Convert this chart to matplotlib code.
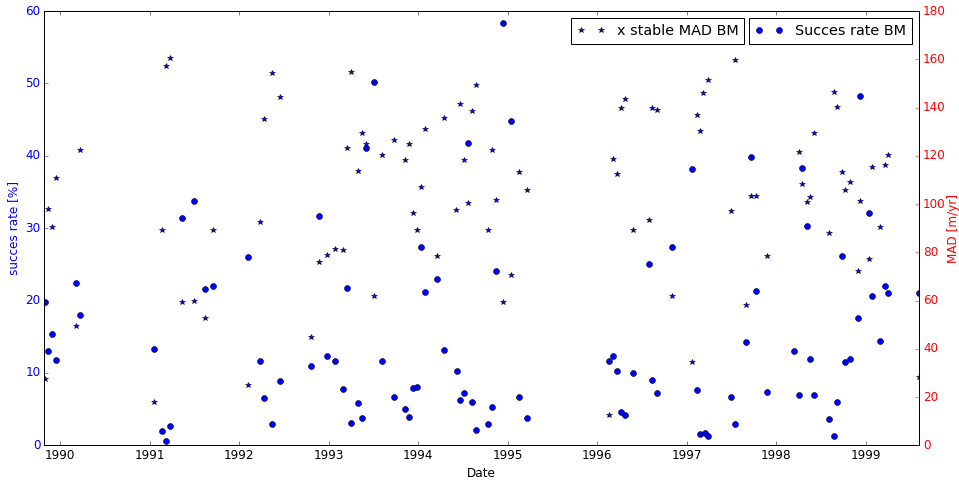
import matplotlib
matplotlib.use('Agg')
import matplotlib.pyplot as plt
from matplotlib.ticker import MultipleLocator, FormatStrFormatter

# success rate (left axis), decimal year
rate_dates = [1989.83, 1989.87, 1989.91, 1989.96, 1990.18, 1990.22,
              1991.05, 1991.14, 1991.18, 1991.23, 1991.36, 1991.50, 1991.62, 1991.71,
              1992.10, 1992.23, 1992.28, 1992.37, 1992.46, 1992.80, 1992.89, 1992.98,
              1993.07, 1993.16, 1993.21, 1993.25, 1993.33, 1993.37, 1993.42, 1993.51,
              1993.60, 1993.73, 1993.85, 1993.90, 1993.94, 1993.99, 1994.03, 1994.08,
              1994.21, 1994.29, 1994.44, 1994.47, 1994.51, 1994.56, 1994.60, 1994.65,
              1994.78, 1994.83, 1994.87, 1994.95, 1995.04, 1995.13, 1995.22,
              1996.13, 1996.18, 1996.22, 1996.27, 1996.31, 1996.40, 1996.58, 1996.61,
              1996.67, 1996.84, 1997.06, 1997.11, 1997.15, 1997.20, 1997.24, 1997.50,
              1997.54, 1997.66, 1997.72, 1997.77, 1997.90, 1998.20, 1998.25, 1998.29,
              1998.34, 1998.38, 1998.42, 1998.59, 1998.65, 1998.68, 1998.73, 1998.77,
              1998.82, 1998.91, 1998.94, 1999.04, 1999.07, 1999.16, 1999.21, 1999.25,
              1999.60]
rate_vals = [19.8, 13.0, 15.4, 11.8, 22.4, 18.0,
             13.3, 2.0, 0.6, 2.7, 31.4, 33.8, 21.6, 22.0,
             26.0, 11.6, 6.5, 2.9, 8.9, 11.0, 31.7, 12.3,
             11.6, 7.8, 21.7, 3.1, 5.8, 3.8, 41.1, 50.2,
             11.6, 6.7, 5.0, 3.9, 7.9, 8.0, 27.4, 21.2,
             23.0, 13.2, 10.3, 6.3, 7.2, 41.8, 6.0, 2.1,
             2.9, 5.3, 24.1, 58.3, 44.8, 6.7, 3.8,
             11.6, 12.3, 10.3, 4.6, 4.2, 10.0, 25.0, 9.0,
             7.2, 27.4, 38.2, 7.6, 1.6, 1.7, 1.3, 6.7,
             2.9, 14.3, 39.8, 21.3, 7.4, 13.0, 6.9, 38.3,
             30.3, 11.9, 6.9, 3.6, 1.3, 6.0, 26.2, 11.5,
             11.9, 17.6, 48.3, 32.1, 20.6, 14.4, 22.0, 21.0,
             21.0]

# MAD of stable ground (right axis)
mad_dates = [1989.83, 1989.87, 1989.91, 1989.96, 1990.18, 1990.22,
             1991.05, 1991.14, 1991.18, 1991.23, 1991.36, 1991.50, 1991.62, 1991.71,
             1992.10, 1992.23, 1992.28, 1992.37, 1992.46, 1992.80, 1992.89, 1992.98,
             1993.07, 1993.16, 1993.21, 1993.25, 1993.33, 1993.37, 1993.42, 1993.51,
             1993.60, 1993.73, 1993.85, 1993.90, 1993.94, 1993.99, 1994.03, 1994.08,
             1994.21, 1994.29, 1994.42, 1994.47, 1994.51, 1994.56, 1994.60, 1994.65,
             1994.78, 1994.83, 1994.87, 1994.95, 1995.04, 1995.13, 1995.22,
             1996.13, 1996.18, 1996.22, 1996.27, 1996.31, 1996.40, 1996.58, 1996.61,
             1996.67, 1996.84, 1997.06, 1997.11, 1997.15, 1997.18, 1997.24, 1997.50,
             1997.54, 1997.66, 1997.72, 1997.77, 1997.90, 1998.25, 1998.29, 1998.34,
             1998.38, 1998.42, 1998.59, 1998.65, 1998.68, 1998.73, 1998.77, 1998.82,
             1998.91, 1998.94, 1999.04, 1999.07, 1999.16, 1999.21, 1999.25, 1999.60]
mad_vals = [27.5, 97.9, 90.5, 110.8, 49.4, 122.4,
            17.9, 89.2, 157.2, 160.5, 59.4, 59.8, 52.8, 89.2,
            25.0, 92.5, 135.2, 154.3, 144.4, 44.9, 76.0, 78.9,
            81.4, 80.9, 123.2, 154.7, 113.7, 129.4, 124.9, 61.9,
            120.3, 126.5, 118.2, 124.9, 96.3, 89.1, 107.1, 131.1,
            78.5, 135.7, 97.5, 141.5, 118.2, 100.4, 138.6, 149.3,
            89.2, 122.4, 101.7, 59.4, 70.6, 113.3, 105.8,
            12.6, 118.7, 112.4, 139.8, 143.5, 89.2, 93.4, 139.8,
            139.0, 61.9, 34.5, 136.9, 130.3, 146.0, 151.4, 97.1,
            159.7, 58.1, 103.3, 103.3, 78.5, 121.6, 108.3, 100.8,
            102.9, 129.4, 88.0, 146.4, 140.2, 113.3, 105.8, 109.1,
            72.2, 101.3, 77.2, 115.3, 90.5, 116.2, 120.3, 28.3]

plt.style.use('classic')

fig = plt.figure(figsize=(959 / 72.0, 481 / 72.0), dpi=72, facecolor='white')
ax1 = fig.add_axes([0.0462, 0.0742, 0.9121, 0.9029])
ax2 = ax1.twinx()

ax1.plot(rate_dates, rate_vals, 'bo', label='Succes rate BM')
ax2.plot(mad_dates, mad_vals, 'b*', label='x stable MAD BM')

ax1.set_xlim(1989.825, 1999.595)
ax1.set_ylim(0, 60)
ax2.set_ylim(0, 180)
ax1.xaxis.set_major_locator(MultipleLocator(1))
ax1.xaxis.set_major_formatter(FormatStrFormatter('%d'))
ax1.yaxis.set_major_locator(MultipleLocator(10))
ax2.yaxis.set_major_locator(MultipleLocator(20))

ax1.set_xlabel('Date')
ax1.set_ylabel('succes rate [%]', color='b')
ax2.set_ylabel('MAD [m/yr]', color='r', labelpad=1)
ax1.tick_params(axis='y', colors='b')
ax2.tick_params(axis='y', colors='r')

ax1.legend(loc='upper right', numpoints=2)
ax2.legend(loc='upper right', bbox_to_anchor=(0.8085, 1.0), numpoints=2)

fig.savefig('out.png', dpi=72, facecolor='white')
